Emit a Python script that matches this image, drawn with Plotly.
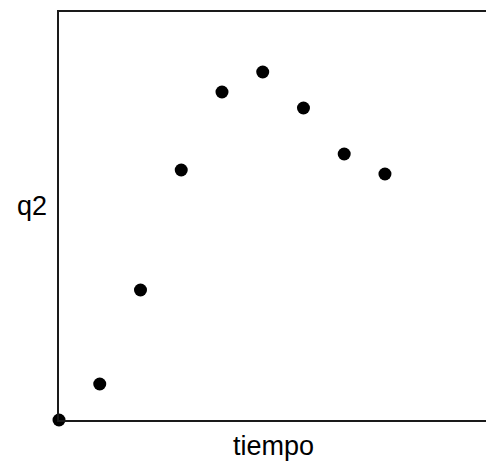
import plotly.graph_objects as go

# data
tiempo = [0, 1, 2, 3, 4, 5, 6, 7, 8]
q2 = [0, 36, 130, 250, 328, 348, 312, 266, 246]

fig = go.Figure()

fig.add_trace(go.Scatter(
    x=tiempo,
    y=q2,
    mode="markers",
    marker=dict(color="black", size=13),
    cliponaxis=False,
    showlegend=False
))

fig.update_layout(
    width=486,
    height=464,
    margin=dict(l=59, r=0, t=12, b=44),
    paper_bgcolor="white",
    plot_bgcolor="white",
    font=dict(family="Liberation Sans, Arial, sans-serif", size=27, color="black"),
    annotations=[
        dict(text="q2", xref="paper", yref="paper", x=0, y=0.525, xshift=-10,
             xanchor="right", yanchor="middle", showarrow=False),
        dict(text="tiempo", xref="paper", yref="paper", x=0.502, y=0, yshift=-9,
             xanchor="center", yanchor="top", showarrow=False),
    ]
)

fig.update_xaxes(range=[0, 10.48], showticklabels=False, showgrid=False, zeroline=False,
                 showline=True, linecolor="#1a1a1a", linewidth=2, mirror=True, ticks="")
fig.update_yaxes(range=[0, 408], showticklabels=False, showgrid=False, zeroline=False,
                 showline=True, linecolor="#1a1a1a", linewidth=2, mirror=False, ticks="")

# drop the default 8px body margin so the figure fills the window
fig.write_html("out.html", config={"responsive": False, "displayModeBar": False},
               post_script="document.body.style.margin='0';document.body.style.overflow='hidden';")
